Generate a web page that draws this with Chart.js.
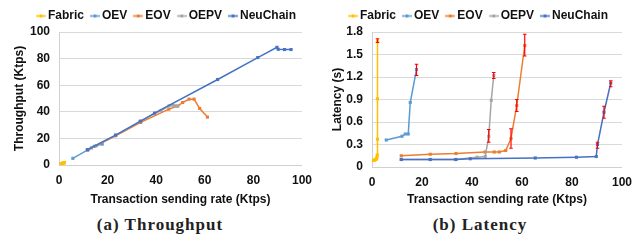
<!DOCTYPE html>
<html><head><meta charset="utf-8">
<script src="https://cdn.jsdelivr.net/npm/chart.js@4.4.0/dist/chart.umd.min.js"></script>
<style>
body{margin:0;background:#fff;width:640px;height:241px;overflow:hidden;position:relative}
#c1{position:absolute;left:0;top:0}
#c2{position:absolute;left:320px;top:0}
.cap{position:absolute;top:215px;width:320px;text-align:center;font:bold 17px "Liberation Serif",serif;letter-spacing:1px;color:#222;line-height:20px}
</style></head><body>
<canvas id="c1" width="320" height="210"></canvas>
<canvas id="c2" width="320" height="210"></canvas>
<div class="cap" style="left:0">(a) Throughput</div>
<div class="cap" style="left:320px">(b) Latency</div>
<script>
// ---- data ----
const seriesNames = ['Fabric', 'OEV', 'EOV', 'OEPV', 'NeuChain'];
const seriesColors = ['#FFC000', '#5B9BD5', '#ED7D31', '#A5A5A5', '#4472C4'];

const fabricRate = [0.3, 0.7, 1.1, 1.5, 1.8, 2.0, 2.1, 2.2, 2.2, 2.2];
const fabricTput = [0.3, 0.7, 1.1, 1.4, 1.6, 1.7, 1.8, 1.8, 1.8, 1.8];
const fabricLat  = [0.09, 0.09, 0.09, 0.10, 0.11, 0.13, 0.16, 0.37, 0.91, 1.68];
const fabricErrLo = [null, null, null, null, null, null, null, null, null, 1.66];
const fabricErrHi = [null, null, null, null, null, null, null, null, null, 1.71];

const oevRate = [5.7, 12.0, 13.3, 14.5, 15.3, 17.8];
const oevTput = [5.0, 11.5, 12.8, 14.0, 14.5, 15.7];
const oevLat  = [0.36, 0.41, 0.44, 0.44, 0.86, 1.30];
const oevErrLo = [null, null, null, null, null, 1.22];
const oevErrHi = [null, null, null, null, null, 1.37];

const eovRate = [11.7, 23.3, 33.6, 45.2, 48.9, 50.9, 53.5, 55.6, 57.9, 61.1];
const eovTput = [11.3, 22.0, 32.0, 42.0, 44.3, 47.0, 49.5, 49.5, 42.5, 36.0];
const eovLat  = [0.15, 0.17, 0.18, 0.20, 0.20, 0.20, 0.22, 0.38, 0.82, 1.62];
const eovErrLo = [null, null, null, null, null, null, null, 0.25, 0.74, 1.48];
const eovErrHi = [null, null, null, null, null, null, null, 0.51, 0.90, 1.77];

const oepvRate = [11.7, 23.3, 33.3, 42.0, 45.3, 46.7, 47.7, 48.7];
const oepvTput = [11.5, 22.3, 32.8, 41.0, 44.5, 45.0, 44.5, 44.3];
const oepvLat  = [0.10, 0.10, 0.10, 0.13, 0.14, 0.41, 0.89, 1.22];
const oepvErrLo = [null, null, null, null, null, 0.33, null, 1.18];
const oepvErrHi = [null, null, null, null, null, 0.50, null, 1.26];

const neuRate = [11.7, 23.3, 33.6, 39.3, 65.3, 81.8, 89.7, 90.2, 92.8, 95.5];
const neuTput = [11.5, 22.5, 33.0, 39.0, 64.3, 80.8, 88.5, 87.0, 86.8, 86.8];
const neuLat  = [0.10, 0.10, 0.10, 0.11, 0.12, 0.13, 0.14, 0.30, 0.73, 1.12];
const neuErrLo = [null, null, null, null, null, null, null, 0.25, 0.65, 1.07];
const neuErrHi = [null, null, null, null, null, null, null, 0.33, 0.81, 1.15];

const xTicks = [0, 20, 40, 60, 80, 100];
const tputTicks = [0, 20, 40, 60, 80, 100];
const latTicks = [0, 0.3, 0.6, 0.9, 1.2, 1.5, 1.8];

const xTitle = 'Transaction sending rate (Ktps)';
const tputTitle = 'Throughput (Ktps)';
const latTitle = 'Latency (s)';

// ---- build ----
const rates = [fabricRate, oevRate, eovRate, oepvRate, neuRate];
const tputs = [fabricTput, oevTput, eovTput, oepvTput, neuTput];
const lats = [fabricLat, oevLat, eovLat, oepvLat, neuLat];
const errLo = [fabricErrLo, oevErrLo, eovErrLo, oepvErrLo, neuErrLo];
const errHi = [fabricErrHi, oevErrHi, eovErrHi, oepvErrHi, neuErrHi];

const FONT = '"Liberation Sans", Arial, sans-serif';
Chart.defaults.font.family = FONT;
Chart.defaults.color = '#111';

function legendIcon(color) {
  const c = document.createElement('canvas');
  c.width = 10; c.height = 5;
  const g = c.getContext('2d');
  g.strokeStyle = color; g.lineWidth = 1.5;
  g.beginPath(); g.moveTo(0, 2.5); g.lineTo(10, 2.5); g.stroke();
  g.fillStyle = color; g.fillRect(3.5, 1, 3, 3);
  return c;
}
const icons = seriesColors.map(legendIcon);

function makeDatasets(ys) {
  return seriesNames.map((name, i) => ({
    label: name,
    data: rates[i].map((x, j) => ({x: x, y: ys[i][j]})),
    showLine: true,
    borderColor: seriesColors[i],
    backgroundColor: seriesColors[i],
    borderWidth: 1.5,
    pointStyle: 'rect',
    pointRadius: 2.2,
    pointBorderWidth: 0,
    order: -i
  }));
}

const errorBarPlugin = {
  id: 'errbars',
  afterDatasetsDraw(chart, args, opts) {
    if (!opts.enabled) return;
    const ctx = chart.ctx, xs = chart.scales.x, ys = chart.scales.y;
    ctx.save();
    ctx.strokeStyle = '#FF0000';
    ctx.lineWidth = 1.2;
    for (let i = 0; i < seriesNames.length; i++) {
      for (let j = 0; j < rates[i].length; j++) {
        if (errLo[i][j] == null) continue;
        const px = xs.getPixelForValue(rates[i][j]);
        const p1 = ys.getPixelForValue(errLo[i][j]);
        const p2 = ys.getPixelForValue(errHi[i][j]);
        ctx.beginPath();
        ctx.moveTo(px, p1); ctx.lineTo(px, p2);
        ctx.moveTo(px - 1.8, p1); ctx.lineTo(px + 1.8, p1);
        ctx.moveTo(px - 1.8, p2); ctx.lineTo(px + 1.8, p2);
        ctx.stroke();
      }
    }
    ctx.restore();
  }
};

const legendShiftPlugin = {
  id: 'legendShift',
  afterLayout(chart, args, opts) {
    if (chart.legend && opts.dx) {
      chart.legend.left += opts.dx;
      chart.legend.right += opts.dx;
    }
  }
};

function makeChart(id, ys, yTicks, yMax, yTitle, yWidth, padRight, xHeight, yTitlePad, withErr, legendDx) {
  return new Chart(document.getElementById(id), {
    type: 'scatter',
    data: { datasets: makeDatasets(ys) },
    plugins: [errorBarPlugin, legendShiftPlugin],
    options: {
      responsive: false,
      animation: false,
      events: [],
      layout: { padding: { left: 0, right: padRight, top: 0, bottom: 0 } },
      plugins: {
        tooltip: { enabled: false },
        errbars: { enabled: withErr },
        legendShift: { dx: legendDx },
        legend: {
          position: 'top',
          labels: {
            usePointStyle: true,
            pointStyleWidth: 2,
            padding: 10,
            font: { size: 12, weight: 'bold', family: FONT },
            color: '#111',
            generateLabels(chart) {
              return seriesNames.map((n, i) => ({
                text: n, pointStyle: icons[i], fillStyle: seriesColors[i],
                strokeStyle: seriesColors[i], lineWidth: 0, hidden: false,
                datasetIndex: i, fontColor: '#111'
              }));
            }
          }
        }
      },
      scales: {
        x: {
          type: 'linear', min: 0, max: 100,
          afterBuildTicks(s) { s.ticks = xTicks.map(v => ({value: v})); },
          afterFit(s) { s.height = xHeight; },
          grid: { display: false, drawTicks: false },
          border: { display: true, color: '#D0D0D0', width: 1 },
          ticks: { padding: 8, font: { size: 12, weight: 'bold' }, color: '#111', maxRotation: 0 },
          title: { display: true, text: xTitle, font: { size: 12, weight: 'bold' }, color: '#111', padding: { top: 0, bottom: 3 } }
        },
        y: {
          type: 'linear', min: 0, max: yMax,
          afterBuildTicks(s) { s.ticks = yTicks.map(v => ({value: v})); },
          afterFit(s) { s.width = yWidth; },
          grid: { color: '#D9D9D9', lineWidth: 1, drawTicks: false },
          border: { display: true, color: '#D0D0D0', width: 1 },
          ticks: { padding: 9, font: { size: 12, weight: 'bold' }, color: '#111',
                   callback: v => (v === 0 ? '0' : (Number.isInteger(v) ? String(v) : v.toFixed(1))) },
          title: { display: true, text: yTitle, font: { size: 12, weight: 'bold' }, color: '#111', padding: { top: yTitlePad, bottom: 0 } }
        }
      }
    }
  });
}

makeChart('c1', tputs, tputTicks, 100, tputTitle, 59, 14, 45, 12, false, 15);
makeChart('c2', lats, latTicks, 1.8, latTitle, 52, 18, 43, 10, true, 9);
</script>
</body></html>
